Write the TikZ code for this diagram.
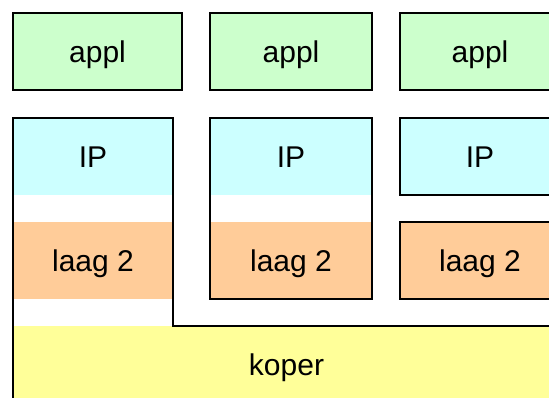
\documentclass[tikz,border=0pt]{standalone}
\usepackage{fontspec}
\setmainfont{Liberation Sans}
\usetikzlibrary{positioning}
\definecolor{applGreen}{RGB}{204, 255, 204}
\definecolor{ipCyan}{RGB}{204, 255, 255}
\definecolor{laagOrange}{RGB}{255, 204, 153}
\definecolor{koperYellow}{RGB}{255, 255, 153}

\begin{document}
\begin{tikzpicture}[x=1pt, y=-1pt, node distance=27pt, line width=2.5pt, every node/.style={font=\fontsize{30}{36}\selectfont, inner sep=0pt, outer sep=0pt, text height=21.5pt, text depth=0pt}]
    \tikzstyle{layer} = [rectangle, minimum height=77pt, text centered]
    \tikzstyle{applbox} = [layer, draw, fill=applGreen]
    \tikzstyle{ipfill} = [layer, fill=ipCyan]
    \tikzstyle{laagfill} = [layer, fill=laagOrange]
    \tikzstyle{frame} = [draw, line join=miter]

    \useasboundingbox (0,0) rectangle (549,397);
    \clip (0,0) rectangle (549,397);

    % koper onderaan
    \node [rectangle, fill=koperYellow, minimum width=547pt, minimum height=78pt] (koper) at (286.5,365) {koper};

    % eerste kolom: IP en laag 2 in het omkaderde blok
    \node [ipfill, minimum width=160pt] (ip1) at (93,156.5) {IP};
    \node [laagfill, minimum width=160pt, below=of ip1] (laag1) {laag 2};
    \node [applbox, minimum width=169pt, above=28pt of ip1.north west, anchor=south west] (appl1) {appl};
    \path [frame] (koper.south west) |- (ip1.north east) |- (koper.north east);

    % tweede kolom
    \node [ipfill, minimum width=162pt] (ip2) at (291,156.5) {IP};
    \node [laagfill, minimum width=162pt, below=of ip2] (laag2) {laag 2};
    \node [applbox, minimum width=162pt, above=28pt of ip2] (appl2) {appl};
    \path [frame] (ip2.north west) rectangle (laag2.south east);

    % derde kolom
    \node [ipfill, draw, minimum width=160pt] (ip3) at (480,156.5) {IP};
    \node [laagfill, draw, minimum width=160pt, below=of ip3] (laag3) {laag 2};
    \node [applbox, minimum width=160pt, above=28pt of ip3] (appl3) {appl};
\end{tikzpicture}
\end{document}
